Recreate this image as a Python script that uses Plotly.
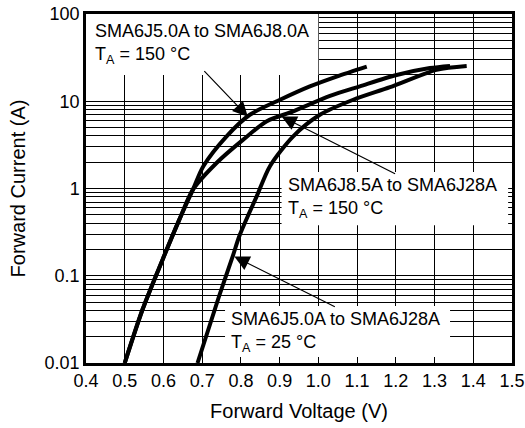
import math
import plotly.graph_objects as go

# Forward characteristics
v_a = [0.50, 0.546, 0.598, 0.641, 0.676, 0.703, 0.763, 0.823, 0.901, 0.978, 1.047, 1.125]
i_a = [0.01, 0.041, 0.154, 0.44, 0.97, 1.8, 3.96, 7.0, 10.4, 14.8, 19.2, 25.0]

v_b = [0.50, 0.546, 0.598, 0.641, 0.676, 0.737, 0.806, 0.867, 0.935, 1.03, 1.107, 1.202, 1.288, 1.34]
i_b = [0.01, 0.041, 0.154, 0.44, 0.97, 1.96, 3.63, 5.9, 7.65, 11.5, 14.8, 20.0, 24.0, 25.4]

v_c = [0.688, 0.744, 0.779, 0.796, 0.822, 0.841, 0.875, 0.935, 1.004, 1.09, 1.185, 1.305, 1.383]
i_c = [0.01, 0.059, 0.168, 0.285, 0.53, 0.817, 1.8, 3.96, 7.0, 10.4, 14.5, 22.9, 25.4]

x_ticks = [0.4, 0.5, 0.6, 0.7, 0.8, 0.9, 1.0, 1.1, 1.2, 1.3, 1.4, 1.5]
x_labels = ["0.4", "0.5", "0.6", "0.7", "0.8", "0.9", "1.0", "1.1", "1.2", "1.3", "1.4", "1.5"]
y_ticks = [0.01, 0.1, 1, 10, 100]
y_labels = ["0.01", "0.1", "1", "10", "100"]

label_a = "SMA6J5.0A to SMA6J8.0A<br>T<sub>A</sub> = 150 °C"
label_b = "SMA6J8.5A to SMA6J28A<br>T<sub>A</sub> = 150 °C"
label_c = "SMA6J5.0A to SMA6J28A<br>T<sub>A</sub> = 25 °C"

FONT = "Liberation Sans, Arial, sans-serif"
fig = go.Figure()
for vx, iy in [(v_a, i_a), (v_b, i_b), (v_c, i_c)]:
    fig.add_trace(go.Scatter(x=vx, y=iy, mode="lines",
                             line=dict(color="black", width=4, shape="spline", smoothing=0.8),
                             showlegend=False, hoverinfo="skip"))

# white label boxes (between grid and traces)
boxes = [(0.4, 1.0, 20, 100), (0.905, 1.49, 0.38, 1.55), (0.759, 1.34, 0.0117, 0.045)]
for x0, x1, y0, y1 in boxes:
    fig.add_shape(type="rect", xref="x", yref="y", x0=x0, x1=x1, y0=y0, y1=y1,
                  fillcolor="white", line=dict(width=0), layer="between")

texts = [(label_a, 0.016, 0.914), (label_b, 0.470, 0.474), (label_c, 0.336, 0.090)]
for t, px, py in texts:
    fig.add_annotation(text=t, xref="paper", yref="paper", x=px, y=py,
                       xanchor="left", yanchor="middle", align="left", showarrow=False,
                       font=dict(family=FONT, size=18, color="black"))

arrows = [(0.818, 6.65, -45, -47), (0.905, 6.7, 115, 58), (0.783, 0.166, 102, 51)]
for ax_, ay_, dx, dy in arrows:
    fig.add_annotation(x=ax_, y=math.log10(ay_), xref="x", yref="y", text="",
                       showarrow=True, ax=dx, ay=dy, arrowhead=2, arrowsize=2.5,
                       arrowwidth=1.2, arrowcolor="black")

fig.update_layout(
    width=525, height=428,
    margin=dict(l=86, r=13, t=14, b=65),
    paper_bgcolor="white", plot_bgcolor="white",
    font=dict(family=FONT, size=18, color="black"),
)
fig.update_xaxes(range=[0.4, 1.5], tickvals=x_ticks, ticktext=x_labels,
                 showgrid=True, gridcolor="black", gridwidth=1,
                 showline=True, linecolor="black", linewidth=2.5, mirror=True,
                 ticks="", zeroline=False, automargin=False,
                 title=dict(text="Forward Voltage (V)", font=dict(size=20), standoff=14))
fig.update_yaxes(type="log", range=[-2, 2], tickvals=y_ticks, ticktext=y_labels,
                 showgrid=True, gridcolor="black", gridwidth=1,
                 minor=dict(dtick="D1", showgrid=True, gridcolor="black", gridwidth=1, ticks=""),
                 showline=True, linecolor="black", linewidth=2.5, mirror=True,
                 ticks="", zeroline=False, automargin=False,
                 title=dict(text="Forward Current (A)", font=dict(size=20), standoff=14))

fig.write_html("out.html", config={"displayModeBar": False},
               post_script="document.body.style.margin='0';document.body.style.overflow='hidden';")
